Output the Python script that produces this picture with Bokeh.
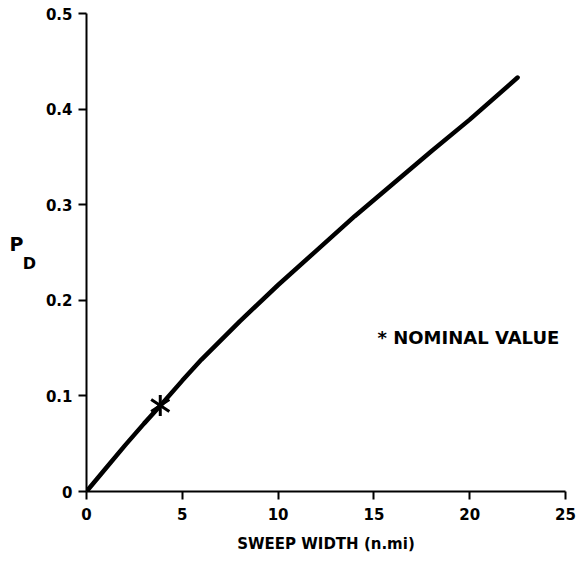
from bokeh.plotting import figure
from bokeh.models import Range1d, FixedTicker, CustomJSTickFormatter, Label, LinearAxis
from bokeh.embed import file_html
from bokeh.resources import INLINE
import numpy as np

# Curve: probability of detection vs sweep width
sweep_width = [0, 1, 2, 3, 4, 5, 6, 8, 10, 12, 14, 16, 18, 20, 22.5]
p_detect = [0, 0.024, 0.048, 0.071, 0.093, 0.116, 0.138, 0.178, 0.216,
            0.252, 0.288, 0.322, 0.356, 0.389, 0.433]

nominal_x = [3.85]
nominal_y = [0.09]

x_ticks = [0, 5, 10, 15, 20, 25]
y_ticks = [0, 0.1, 0.2, 0.3, 0.4, 0.5]

FONT = "DejaVu Sans"

p = figure(width=577, height=563, output_backend="svg", toolbar_location=None,
           x_range=Range1d(0, 25), y_range=Range1d(0, 0.5),
           min_border_left=86, min_border_right=12, min_border_top=13,
           min_border_bottom=72)

p.grid.visible = False
p.outline_line_color = None
p.background_fill_color = "white"
p.border_fill_color = "white"

for ax in (p.xaxis[0], p.yaxis[0]):
    ax.axis_line_width = 2
    ax.axis_line_color = "black"
    ax.major_tick_line_width = 2
    ax.major_tick_line_color = "black"
    ax.major_tick_in = 0
    ax.major_tick_out = 8
    ax.minor_tick_line_color = None
    ax.major_label_text_font = FONT
    ax.major_label_text_font_size = "15px"
    ax.major_label_text_font_style = "bold"
    ax.major_label_text_color = "black"

p.xaxis.ticker = FixedTicker(ticks=x_ticks)
p.yaxis.ticker = FixedTicker(ticks=y_ticks)
p.yaxis.formatter = CustomJSTickFormatter(code="return tick == 0 ? '0' : tick.toFixed(1);")
p.xaxis.major_label_standoff = 8
p.yaxis.major_label_standoff = 6

p.xaxis.axis_label = "SWEEP WIDTH (n.mi)"
p.xaxis.axis_label_text_font = FONT
p.xaxis.axis_label_text_font_size = "15px"
p.xaxis.axis_label_text_font_style = "bold"
p.xaxis.axis_label_text_color = "black"
p.xaxis.axis_label_standoff = 12

# y label: P with subscript D (D on the main axis, P on an outer bare axis)
yax = p.yaxis[0]
yax.axis_label = " \nD"
yax.axis_label_orientation = "horizontal"
yax.axis_label_text_font = FONT
yax.axis_label_text_font_size = "16px"
yax.axis_label_text_font_style = "bold"
yax.axis_label_text_color = "black"
yax.axis_label_standoff = 7

outer = LinearAxis(ticker=FixedTicker(ticks=[]), axis_line_color=None,
                   major_tick_line_color=None, minor_tick_line_color=None,
                   major_tick_out=0, major_tick_in=0, major_label_standoff=0,
                   axis_label="P\n ", axis_label_orientation="horizontal",
                   axis_label_text_font=FONT, axis_label_text_font_size="19px",
                   axis_label_text_font_style="bold", axis_label_text_color="black",
                   axis_label_text_line_height=0.8, axis_label_standoff=-4)
p.add_layout(outer, "left")

p.line(sweep_width, p_detect, line_width=4.5, line_color="black", line_cap="round")

p.scatter(nominal_x, nominal_y, marker="y", size=21, line_width=3, line_color="black")
p.scatter(nominal_x, nominal_y, marker="y", size=21, line_width=3, line_color="black",
          angle=np.pi)

p.add_layout(Label(x=15.19, y=0.161, text="* NOMINAL VALUE", text_font=FONT,
                   text_font_size="18px", text_font_style="bold", text_color="black",
                   text_baseline="middle", text_align="left"))

open("out.html", "w").write(file_html(p, INLINE))
